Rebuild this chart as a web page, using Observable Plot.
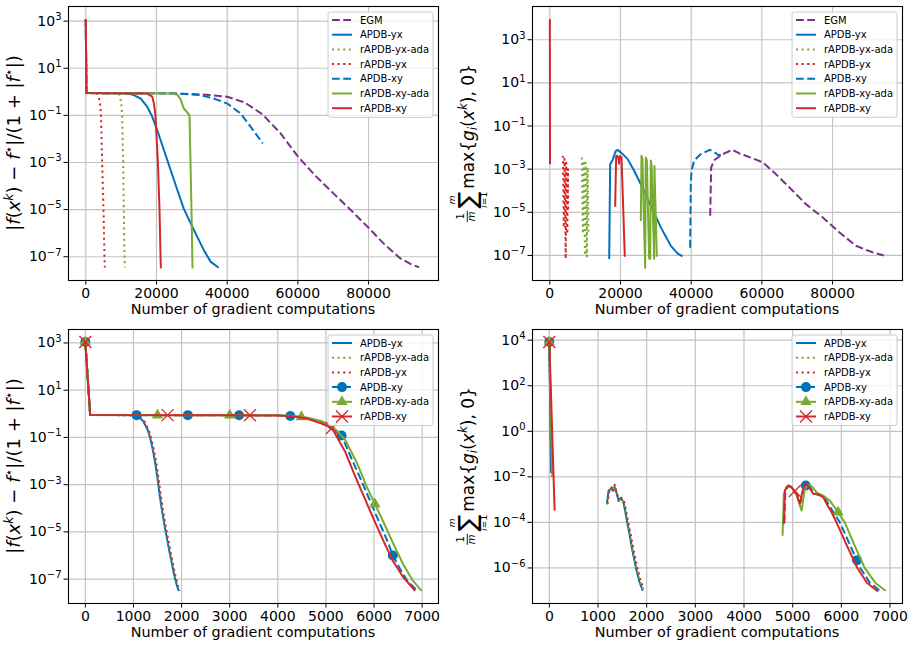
<!DOCTYPE html>
<html>
<head>
<meta charset="utf-8">
<script src="https://cdn.jsdelivr.net/npm/d3@7"></script>
<script src="https://cdn.jsdelivr.net/npm/@observablehq/plot@0.6"></script>
<style>
  html, body { margin: 0; padding: 0; background: #fff; }
  #fig { position: relative; width: 913px; height: 647px; background: #fff; font-family: "DejaVu Sans"; overflow: hidden; }
  #fig > div { position: absolute; }
</style>
</head>
<body>
<div id="fig"></div>
<script>
// ---------- series: [gradient computations, value]; [null, null] breaks a line ----------

// Relative objective gap, long run
const cost1EGM = [[0,1200],[150,0.88],[20000,0.87],[30000,0.81],[35000,0.73],[40000,0.62],[45000,0.35],[50000,0.11],[55000,1.8e-2],[60000,1.8e-3],[65000,2.7e-4],[70000,5e-5],[75000,9.5e-6],[80000,1.7e-6],[84300,3.6e-7],[89000,8.5e-8],[92000,4.8e-8],[94300,3.6e-8]];
const cost1ApdbYx = [[0,1200],[150,0.88],[10000,0.87],[12000,0.84],[13600,0.72],[15500,0.52],[17400,0.23],[18800,8.7e-2],[20200,2.4e-2],[22100,3.4e-3],[24000,4.8e-4],[25900,6.8e-5],[27700,1.1e-5],[30600,1.35e-6],[33400,1.9e-7],[35300,6.2e-8],[37600,3.4e-8]];
const cost1RapdbYxAda = [[0,1200],[150,0.88],[9300,0.86],[9600,0.7],[10000,0.35],[10280,0.1],[10570,1e-3],[10750,1e-5],[10940,1e-7],[11040,3.5e-8]];
const cost1RapdbYx = [[0,1200],[150,0.88],[3200,0.86],[3700,0.55],[4100,0.25],[4300,0.1],[4620,1e-3],[5000,1e-5],[5280,1e-7],[5380,3.5e-8]];
const cost1ApdbXy = [[0,1200],[150,0.88],[25000,0.87],[32500,0.72],[36200,0.52],[40000,0.32],[43800,0.12],[46600,3.3e-2],[50100,6.5e-3]];
const cost1RapdbXyAda = [[0,1200],[150,0.88],[24900,0.85],[26000,0.72],[26800,0.48],[27700,0.2],[28960,0.12],[29340,0.1],[29620,1e-3],[29900,1e-5],[30190,3.2e-8]];
const cost1RapdbXy = [[0,1200],[150,0.88],[17400,0.84],[18800,0.62],[19300,0.3],[19700,0.1],[20400,1e-3],[20850,1e-5],[21150,1e-7],[21250,3.2e-8]];

// Mean constraint violation, long run
const feas1EGM = [[45380,6.9e-6],[45660,1.2e-3],[46510,2.6e-3],[48870,5e-3],[51700,7.9e-3],[53500,5.5e-3],[55470,4.2e-3],[60190,2.1e-3],[63960,5.9e-4],[67740,1.45e-4],[72450,2.4e-5],[77170,5.9e-6],[81890,1.2e-6],[86600,2.8e-7],[91320,1.4e-7],[94500,1e-7]];
const feas1ApdbYx = [[16800,6.8e-8],[17080,1.7e-3],[17740,2.6e-3],[18680,7e-3],[19150,7.8e-3],[20090,6e-3],[21980,3e-3],[23860,8.5e-4],[25750,2e-4],[28580,2e-5],[31410,2e-6],[34240,2.8e-7],[36130,1.25e-7],[37550,9e-8]];
const feas1RapdbYxAda = [[9060,3.5e-3],[9350,1e-6],[9600,2.5e-3],[9950,1e-7],[10150,2e-3],[10470,9e-8],[10700,1.2e-3],[10940,1e-6]];
const feas1RapdbYx = [[3700,4.2e-3],[3950,2e-6],[4150,3e-3],[4500,7e-8],[4650,2e-3],[4950,1e-6],[5150,1e-3],[5200,1e-5]];
const feas1ApdbXy = [[39710,2.3e-7],[39900,2e-4],[40090,8.5e-4],[40850,2.5e-3],[42740,5e-3],[45300,7.9e-3],[47000,5.5e-3],[47920,4.2e-3],[48500,5.3e-3],[49340,5e-3]];
const feas1RapdbXyAda = [[25750,4e-6],[25950,4.2e-3],[26200,3e-3],[26980,2.6e-8],[27150,3.5e-3],[27450,2.5e-3],[28110,7e-8],[28400,7e-8],[28580,2.5e-3],[28800,1.5e-3],[29520,7e-8],[29600,1.4e-3],[30280,8.7e-8]];
const feas1RapdbXy = [[0,9100],[60,1.7e-3],[null,null],[18490,1.8e-5],[18770,3.8e-3],[19000,4.2e-3],[19400,3.5e-3],[19600,1.8e-3],[19800,4e-3],[20290,3.6e-3],[21220,8.7e-8]];

// Relative objective gap, short run
const cost2ApdbYx = [[0,1100],[100,0.9],[1000,0.87],[1100,0.76],[1200,0.5],[1300,0.2],[1350,8.9e-2],[1400,3.2e-2],[1450,8.9e-3],[1500,1.8e-3],[1550,3e-4],[1600,6.6e-5],[1650,1.7e-5],[1700,4.8e-6],[1750,1.4e-6],[1800,4.5e-7],[1850,1.4e-7],[1900,5.6e-8],[1940,3.2e-8]];
const cost2RapdbYxAda = [[0,1100],[100,0.9],[1000,0.87],[1110,0.76],[1212,0.5],[1312,0.2],[1362,8.9e-2],[1412,3.2e-2],[1462,8.9e-3],[1512,1.8e-3],[1562,3e-4],[1612,6.6e-5],[1662,1.7e-5],[1712,4.8e-6],[1762,1.4e-6],[1812,4.5e-7],[1862,1.4e-7],[1912,5.6e-8],[1952,3.2e-8]];
const cost2RapdbYx = [[0,1100],[100,0.9],[1000,0.87],[1120,0.76],[1222,0.5],[1322,0.2],[1372,8.9e-2],[1422,3.2e-2],[1472,8.9e-3],[1522,1.8e-3],[1572,3e-4],[1622,6.6e-5],[1672,1.7e-5],[1722,4.8e-6],[1772,1.4e-6],[1822,4.5e-7],[1872,1.4e-7],[1922,5.6e-8],[1962,3.2e-8]];
const cost2ApdbXy = [[0,1100],[100,0.9],[1000,0.88],[2000,0.88],[3000,0.87],[4000,0.85],[4300,0.8],[4600,0.66],[4900,0.42],[5100,0.24],[5325,0.12],[5500,1.8e-2],[5700,2.2e-3],[5900,2.5e-4],[6100,2.8e-5],[6300,3.2e-6],[6390,1e-6],[6550,2.5e-7],[6700,8e-8],[6890,3.4e-8]];
const cost2RapdbXyAda = [[0,1100],[100,0.9],[1000,0.88],[2000,0.88],[3000,0.87],[4000,0.86],[4300,0.82],[4600,0.7],[4900,0.5],[5150,0.28],[5400,8e-2],[5650,8e-3],[5850,8e-4],[6020,1.5e-4],[6200,2.5e-5],[6400,3.2e-6],[6600,4.5e-7],[6800,9e-8],[6990,3.2e-8]];
const cost2RapdbXy = [[0,1100],[100,0.9],[1000,0.88],[2000,0.88],[3000,0.87],[4000,0.84],[4300,0.78],[4600,0.63],[4900,0.4],[5125,0.25],[5400,2.5e-2],[5600,2.5e-3],[5800,2.8e-4],[6000,3.2e-5],[6200,4e-6],[6400,5.6e-7],[6600,1.26e-7],[6855,3.2e-8]];
const cost2ApdbXyMarks = [[0,1100],[1065,0.88],[2130,0.88],[3195,0.87],[4260,0.81],[5325,0.12],[6390,1e-6]];
const cost2RapdbXyAdaMarks = [[0,1100],[1500,0.88],[3000,0.87],[4490,0.74],[6020,1.5e-4]];
const cost2RapdbXyMarks = [[0,1100],[1710,0.88],[3420,0.87],[5125,0.25]];

// Mean constraint violation, short run
const feas2ApdbYx = [[0,8300],[35,1.9e-2],[null,null],[1183,6.9e-4],[1217,2.5e-3],[1265,3e-3],[1299,2.6e-3],[1340,3.6e-3],[1388,1.8e-3],[1422,9e-4],[1470,1.2e-3],[1524,7.5e-4],[1560,3e-4],[1600,1e-4],[1650,2.8e-5],[1700,7e-6],[1780,1e-6],[1850,2.5e-7],[1920,1e-7]];
const feas2RapdbYxAda = [[0,8300],[38,1.5e-2],[null,null],[1190,6e-4],[1225,2.6e-3],[1270,3.2e-3],[1305,2.4e-3],[1345,3.8e-3],[1395,1.7e-3],[1430,9.5e-4],[1478,1.1e-3],[1530,7e-4],[1570,2.8e-4],[1610,1e-4],[1660,2.6e-5],[1715,6e-6],[1790,1e-6],[1860,2.5e-7],[1930,1.1e-7]];
const feas2RapdbYx = [[0,8300],[40,9.8e-3],[null,null],[1195,6.5e-4],[1230,2.2e-3],[1280,3.5e-3],[1310,2.2e-3],[1345,4.5e-3],[1400,1.5e-3],[1435,8e-4],[1485,1.2e-3],[1540,8e-4],[1580,3e-4],[1620,1.1e-4],[1675,2.8e-5],[1730,6.5e-6],[1810,1e-6],[1880,2.6e-7],[1940,1.2e-7]];
const feas2ApdbXy = [[0,8300],[45,1.8e-2],[null,null],[4830,1e-4],[4850,2.6e-3],[4915,4e-3],[4990,3.4e-3],[5090,1.8e-3],[5160,7.5e-4],[5215,2.4e-3],[5270,4.2e-3],[5340,4e-3],[5440,1.8e-3],[5550,1.6e-3],[5660,1.2e-3],[5770,4.6e-4],[5850,2.6e-4],[5970,1e-4],[6180,1e-5],[6390,1e-6],[6590,2.2e-7],[6820,9e-8]];
const feas2RapdbXyAda = [[0,8300],[60,1e-2],[null,null],[4792,2.6e-5],[4820,1.8e-3],[4870,3.5e-3],[4920,4e-3],[4990,3.2e-3],[5080,1.6e-3],[5183,3.3e-4],[5250,3e-3],[5318,4.6e-3],[5400,3.7e-3],[5490,2.1e-3],[5626,1.5e-3],[5763,9e-4],[5934,2.8e-4],[6070,1e-4],[6270,1e-5],[6480,1e-6],[6700,2.2e-7],[6911,1e-7]];
const feas2RapdbXy = [[0,8300],[109,3.3e-4],[null,null],[4820,8.5e-5],[4840,2.5e-3],[4908,4.2e-3],[4977,3.5e-3],[5080,1.8e-3],[5148,6.6e-4],[5200,2.2e-3],[5250,4.5e-3],[5318,4.2e-3],[5421,1.8e-3],[5523,1.7e-3],[5626,1.3e-3],[5729,5e-4],[5800,2.8e-4],[5900,1e-4],[6110,1e-5],[6330,1e-6],[6530,2.2e-7],[6753,9.3e-8]];
const feas2ApdbXyMarks = [[0,8300],[5270,4.2e-3],[6323,2.2e-6]];
const feas2RapdbXyAdaMarks = [[0,8300],[5934,2.8e-4]];
const feas2RapdbXyMarks = [[0,8300],[5045,2.4e-3]];

// ---------- ticks ----------
const xTicksLong = [0, 20000, 40000, 60000, 80000];
const xTicksShort = [0, 1000, 2000, 3000, 4000, 5000, 6000, 7000];
const yTicksOdd = [1e-7, 1e-5, 1e-3, 1e-1, 1e1, 1e3];
const yTicksEven = [1e-6, 1e-4, 1e-2, 1, 1e2, 1e4];

// ---------- methods ----------
const legendLong = ["EGM", "APDB-yx", "rAPDB-yx-ada", "rAPDB-yx", "APDB-xy", "rAPDB-xy-ada", "rAPDB-xy"];
const legendShort = ["APDB-yx", "rAPDB-yx-ada", "rAPDB-yx", "APDB-xy", "rAPDB-xy-ada", "rAPDB-xy"];

const PURPLE = "#7e2f8e", BLUE = "#0072bd", GREEN = "#77ac30", RED = "#d62728";
const DASHED = "7.8,3.4", DOTTED = "2.1,3.5";
const STYLE = {
  "EGM":          {color: PURPLE, dash: DASHED},
  "APDB-yx":      {color: BLUE,   dash: null},
  "rAPDB-yx-ada": {color: GREEN,  dash: DOTTED},
  "rAPDB-yx":     {color: RED,    dash: DOTTED},
  "APDB-xy":      {color: BLUE,   dash: DASHED, symbol: "circle", r: 5},
  "rAPDB-xy-ada": {color: GREEN,  dash: null,   symbol: "triangle", r: 4.2},
  "rAPDB-xy":     {color: RED,    dash: null,   symbol: "times", r: 5.5}
};
const GRID = "#c4c4c4";
const FONT = "DejaVu Sans";

const fig = d3.select("#fig");

function markerMark(pts, st) {
  const base = {x: d => d[0], y: d => d[1], r: st.r, symbol: st.symbol};
  if (st.symbol === "times") return Plot.dot(pts, {...base, stroke: st.color, strokeWidth: 1.3, fill: "none"});
  return Plot.dot(pts, {...base, fill: st.color, stroke: "none"});
}

function richText(parent, x, y, runs, anchor, size) {
  const t = parent.append("text").attr("x", x).attr("y", y)
    .attr("text-anchor", anchor || "start").attr("font-size", size || 14).attr("fill", "black")
    .attr("font-family", FONT);
  let shift = 0;
  for (const r of runs) {
    const ts = t.append("tspan").text(r.s);
    const want = r.shift || 0;
    if (want !== shift) { ts.attr("dy", want - shift); shift = want; }
    if (r.size) ts.attr("font-size", r.size);
    if (r.it) ts.attr("font-style", "italic");
  }
  return t;
}

function drawLegend(svg, right, top, keys, withMarkers) {
  const w = 105, rowH = 14.7, h = keys.length * rowH + 2.4;
  const g = d3.select(svg).append("g").attr("font-family", FONT).attr("text-anchor", "start");
  g.append("rect").attr("x", right - w).attr("y", top).attr("width", w).attr("height", h)
    .attr("rx", 2.5).attr("fill", "white").attr("fill-opacity", 0.8)
    .attr("stroke", "#cccccc").attr("stroke-width", 1);
  keys.forEach((k, i) => {
    const st = STYLE[k];
    const cy = top + 8 + i * rowH, lx = right - w + 4;
    g.append("line").attr("x1", lx).attr("x2", lx + 20).attr("y1", cy).attr("y2", cy)
      .attr("stroke", st.color).attr("stroke-width", 2).attr("stroke-dasharray", st.dash);
    if (withMarkers && st.symbol) {
      const type = {circle: d3.symbolCircle, triangle: d3.symbolTriangle, times: d3.symbolTimes}[st.symbol];
      const p = g.append("path").attr("transform", `translate(${lx + 10},${cy})`)
        .attr("d", d3.symbol(type, Math.PI * st.r * st.r)());
      if (st.symbol === "times") p.attr("fill", "none").attr("stroke", st.color).attr("stroke-width", 1.3);
      else p.attr("fill", st.color);
    }
    g.append("text").attr("x", lx + 28).attr("y", cy).attr("dy", "0.35em")
      .attr("text-anchor", "start").attr("font-size", 10).attr("fill", "black").text(k);
  });
}

// y-axis title for the objective gap: |f(x^k) − f*|/(1 + |f*|)
function costLabel(svg, bx, cy) {
  const SUPL = -7, SZ = 12.5;
  const g = d3.select(svg).append("g").attr("transform", `translate(${bx},${cy}) rotate(-90)`);
  richText(g, 0, 0, [
    {s: "|"}, {s: "f", it: 1}, {s: "("}, {s: "x", it: 1}, {s: "k", it: 1, size: SZ, shift: SUPL},
    {s: ") − "}, {s: "f", it: 1}, {s: "⋆", size: SZ, shift: SUPL}, {s: "|/(1 + |"},
    {s: "f", it: 1}, {s: "⋆", size: SZ, shift: SUPL}, {s: "|)"}
  ], "middle", 18);
}

// y-axis title for the mean violation: (1/m) Σ_{i=1}^m max{g_i(x^k), 0}
function feasLabel(svg, bx, cy) {
  const g = d3.select(svg).append("g").attr("transform", `translate(${bx},${cy}) rotate(-90)`)
    .attr("font-family", FONT);
  const inner = g.append("g");
  let cur = 0;
  const one = inner.append("text").attr("y", -9.5).attr("font-size", 10).attr("text-anchor", "middle").text("1");
  const em = inner.append("text").attr("y", 1.5).attr("font-size", 10).attr("font-style", "italic").attr("text-anchor", "middle").text("m");
  const fw = Math.max(one.node().getComputedTextLength(), em.node().getComputedTextLength()) + 1.5;
  one.attr("x", cur + fw / 2); em.attr("x", cur + fw / 2);
  inner.append("line").attr("x1", cur).attr("x2", cur + fw).attr("y1", -6.2).attr("y2", -6.2)
    .attr("stroke", "black").attr("stroke-width", 0.9);
  cur += fw + 2.5;
  const sig = inner.append("text").attr("y", 2).attr("font-size", 25).attr("text-anchor", "middle").text("∑");
  const sw = sig.node().getComputedTextLength();
  sig.attr("x", cur + sw / 2);
  inner.append("text").attr("x", cur + sw / 2).attr("y", -19).attr("font-size", 9)
    .attr("font-style", "italic").attr("text-anchor", "middle").text("m");
  richText(inner, cur + sw / 2, 13.5, [{s: "i", it: 1}, {s: "=1"}], "middle", 9);
  cur += sw + 2.5;
  const main = richText(inner, cur, 0, [
    {s: "max{"}, {s: "g", it: 1}, {s: "i", it: 1, size: 12, shift: 3.5}, {s: "("},
    {s: "x", it: 1}, {s: "k", it: 1, size: 12, shift: -6.5}, {s: "), 0}"}
  ], "start", 17);
  cur += main.node().getComputedTextLength();
  inner.attr("transform", `translate(${-cur / 2},0)`);
}

function supTicks(svg) {
  d3.select(svg).selectAll('[aria-label="y-axis tick label"] text').each(function () {
    const s = this.textContent, i = s.indexOf("^");
    if (i < 0) return;
    const t = d3.select(this);
    t.text(null);
    t.append("tspan").text(s.slice(0, i));
    t.append("tspan").attr("dy", -5.6).attr("font-size", 10).text(s.slice(i + 1));
  });
}

function drawPanel(cfg) {
  const {left, top, width, height, mt, mr, mb, ml} = cfg;
  const marks = [
    Plot.gridX({ticks: cfg.xTicks, stroke: GRID, strokeOpacity: 1, strokeWidth: 1.2}),
    Plot.gridY({ticks: cfg.yTicks, stroke: GRID, strokeOpacity: 1, strokeWidth: 1.2})
  ];
  for (const s of cfg.series) {
    const st = STYLE[s.key];
    marks.push(Plot.line(s.data, {
      x: d => d[0], y: d => d[1], stroke: st.color, strokeWidth: 2,
      strokeDasharray: st.dash, strokeLinecap: "butt", strokeLinejoin: "round"
    }));
    if (s.marks) marks.push(markerMark(s.marks, st));
  }
  marks.push(
    Plot.axisX({ticks: cfg.xTicks, tickFormat: d => String(d), tickSize: 4.5, tickPadding: 3, label: null}),
    Plot.axisY({ticks: cfg.yTicks, tickSize: 4.5, tickPadding: 2.5, label: null,
      tickFormat: d => "10^" + String(Math.round(Math.log10(d))).replace("-", "−")}),
    Plot.frame({stroke: "black", strokeWidth: 1.1})
  );
  const svg = Plot.plot({
    width, height, marginTop: mt, marginRight: mr, marginBottom: mb, marginLeft: ml,
    x: {domain: cfg.xDomain},
    y: {type: "log", domain: cfg.yDomain},
    style: {fontFamily: FONT, fontSize: "14px", background: "white", overflow: "visible", color: "black"},
    marks
  });
  const holder = fig.append("div").style("left", left + "px").style("top", top + "px")
    .style("width", width + "px").style("height", height + "px");
  holder.node().appendChild(svg);
  supTicks(svg);
  // x-axis title
  d3.select(svg).append("text").attr("x", ml + (width - ml - mr) / 2).attr("y", height - mb + 34)
    .attr("text-anchor", "middle").attr("font-size", 14.4).attr("font-family", FONT).attr("fill", "black")
    .text("Number of gradient computations");
  const cy = mt + (height - mt - mb) / 2;
  if (cfg.kind === "cost") costLabel(svg, 19.5, cy);
  else feasLabel(svg, 17.5, cy);
  drawLegend(svg, width - mr - 5, mt + (cfg.legendGap || 6), cfg.legend, cfg.withMarkers);
}

drawPanel({
  left: 0, top: 0, width: 456, height: 320, mt: 6, mr: 18, mb: 40, ml: 68,
  xDomain: [-4900, 99800], xTicks: xTicksLong,
  yDomain: [9.8e-9, 4170], yTicks: yTicksOdd, kind: "cost",
  legend: legendLong, withMarkers: false,
  series: [
    {key: "EGM", data: cost1EGM},
    {key: "APDB-yx", data: cost1ApdbYx},
    {key: "rAPDB-yx-ada", data: cost1RapdbYxAda},
    {key: "rAPDB-yx", data: cost1RapdbYx},
    {key: "APDB-xy", data: cost1ApdbXy},
    {key: "rAPDB-xy-ada", data: cost1RapdbXyAda},
    {key: "rAPDB-xy", data: cost1RapdbXy}
  ]
});

drawPanel({
  left: 456, top: 0, width: 457, height: 320, mt: 6, mr: 11, mb: 40, ml: 76,
  xDomain: [-4900, 99800], xTicks: xTicksLong,
  yDomain: [6.9e-9, 34700], yTicks: yTicksOdd, kind: "feas",
  legend: legendLong, withMarkers: false,
  series: [
    {key: "EGM", data: feas1EGM},
    {key: "APDB-yx", data: feas1ApdbYx},
    {key: "rAPDB-yx-ada", data: feas1RapdbYxAda},
    {key: "rAPDB-yx", data: feas1RapdbYx},
    {key: "APDB-xy", data: feas1ApdbXy},
    {key: "rAPDB-xy-ada", data: feas1RapdbXyAda},
    {key: "rAPDB-xy", data: feas1RapdbXy}
  ]
});

drawPanel({
  left: 0, top: 320, width: 456, height: 327, mt: 9, mr: 18, mb: 44, ml: 68,
  xDomain: [-350, 7340], xTicks: xTicksShort,
  yDomain: [9.3e-9, 3715], yTicks: yTicksOdd, kind: "cost",
  legend: legendShort, withMarkers: true,
  series: [
    {key: "APDB-yx", data: cost2ApdbYx},
    {key: "rAPDB-yx-ada", data: cost2RapdbYxAda},
    {key: "rAPDB-yx", data: cost2RapdbYx},
    {key: "APDB-xy", data: cost2ApdbXy, marks: cost2ApdbXyMarks},
    {key: "rAPDB-xy-ada", data: cost2RapdbXyAda, marks: cost2RapdbXyAdaMarks},
    {key: "rAPDB-xy", data: cost2RapdbXy, marks: cost2RapdbXyMarks}
  ]
});

drawPanel({
  left: 456, top: 320, width: 457, height: 327, mt: 9, mr: 11, mb: 44, ml: 76,
  xDomain: [-346, 7257], xTicks: xTicksShort,
  yDomain: [2.75e-8, 29500], yTicks: yTicksEven, kind: "feas",
  legend: legendShort, withMarkers: true,
  series: [
    {key: "APDB-yx", data: feas2ApdbYx},
    {key: "rAPDB-yx-ada", data: feas2RapdbYxAda},
    {key: "rAPDB-yx", data: feas2RapdbYx},
    {key: "APDB-xy", data: feas2ApdbXy, marks: feas2ApdbXyMarks},
    {key: "rAPDB-xy-ada", data: feas2RapdbXyAda, marks: feas2RapdbXyAdaMarks},
    {key: "rAPDB-xy", data: feas2RapdbXy, marks: feas2RapdbXyMarks}
  ]
});
</script>
</body>
</html>
